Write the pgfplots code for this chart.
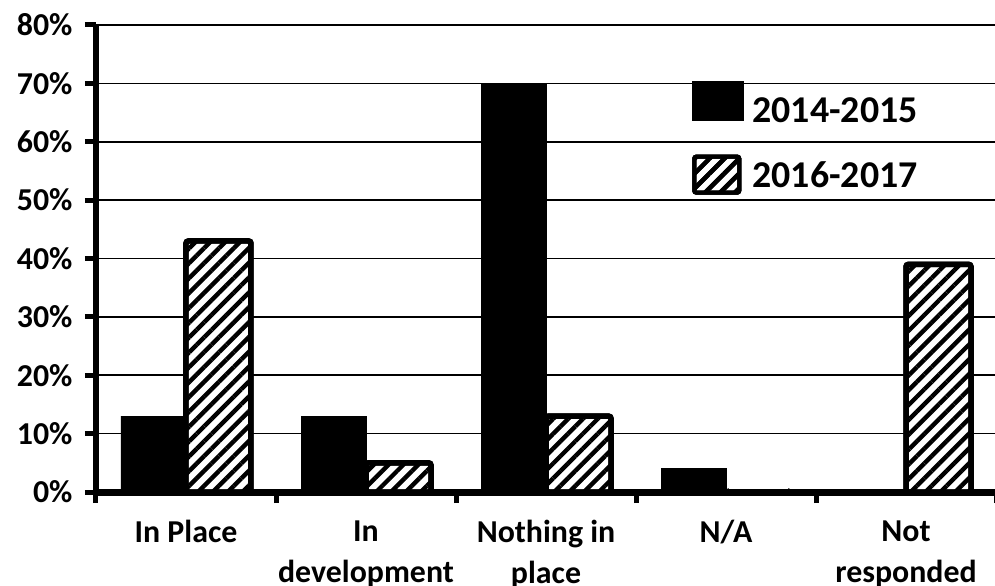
\documentclass[border=0pt]{standalone}
\usepackage{fontspec}
\setmainfont{Carlito}
\usepackage{pgfplots}
\pgfplotsset{compat=1.18}
\usetikzlibrary{patterns.meta}

% Share of respondents by status, two survey periods (percent)
\pgfplotstableread{
x  a   b
0  13  43
1  13  5
2  70  13
3  4   0
4  0   39
}\statusdata

\tikzset{hatchfill/.style={fill=white,
  postaction={pattern={Lines[angle=45,distance=10.5bp,line width=4.4bp]},pattern color=black}}}

\begin{document}
\begin{tikzpicture}
\begin{axis}[
  scale only axis,
  width=900bp, height=467bp,
  xmin=-0.5, xmax=4.5,
  ymin=0, ymax=80,
  axis lines=left,
  axis line style={-},
  x axis line style={line width=7bp},
  y axis line style={line width=6bp},
  tick align=outside,
  major tick length=11bp,
  tick style={black,line width=5bp},
  ytick={0,10,...,80},
  yticklabels={0\%,10\%,20\%,30\%,40\%,50\%,60\%,70\%,80\%},
  xtick={-0.5,0.5,1.5,2.5,3.5,4.5},
  xticklabels={},
  extra x ticks={0,1,2,3,4},
  extra x tick labels={In Place,In\\development,Nothing in\\place,N/A,Not\\responded},
  extra x tick style={major tick length=0pt},
  ymajorgrids=true,
  grid style={black,line width=1.6bp},
  ticklabel style={font=\fontsize{32}{41}\selectfont\bfseries},
  yticklabel style={xshift=-9bp},
  xticklabel style={align=center,yshift=-25bp},
  ybar=0pt,
  bar width=65bp,
  legend style={at={(0.662,0.88)}, anchor=north west, draw=none, fill=none,
    font=\fontsize{38}{44}\selectfont\bfseries,
    inner sep=0pt, row sep=31bp, column sep=9bp,
    nodes={inner sep=0pt, anchor=west}},
  legend cell align=left,
]
\addplot[fill=black, draw=black, line width=0.5bp,
  legend image code/.code={\fill[black] (0bp,-10bp) rectangle (51bp,29bp);}]
  table[x=x,y=a]{\statusdata};
\addlegendentry{2014-2015}
\addplot[hatchfill, draw=black, line width=5.5bp, rounded corners=2.5bp,
  legend image code/.code={\draw[hatchfill, draw=black, line width=4bp, rounded corners=2bp] (2bp,-17bp) rectangle (47bp,19bp);}]
  table[x=x,y=b]{\statusdata};
\addlegendentry{2016-2017}
\end{axis}
\pgfresetboundingbox
\path[use as bounding box] (-96bp,-94bp) rectangle (899bp,492bp);
\end{tikzpicture}
\end{document}
